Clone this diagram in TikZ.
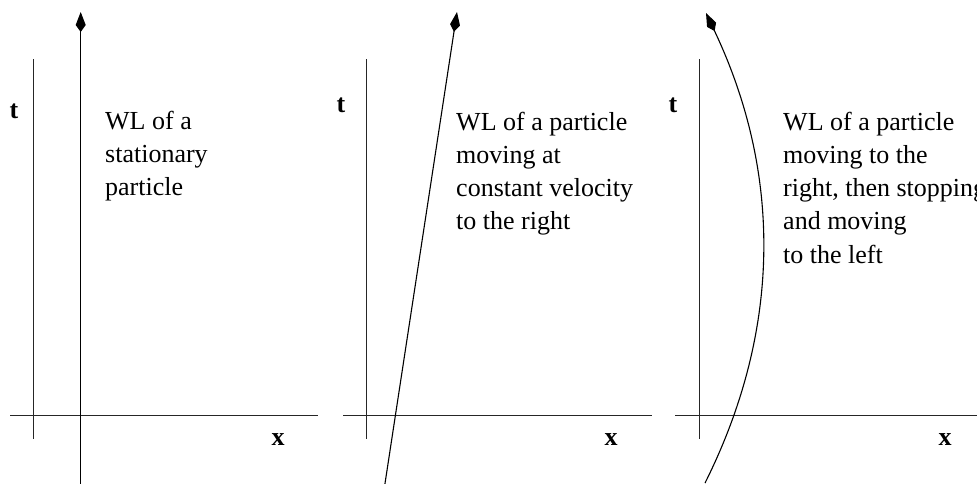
\documentclass[tikz,border=0pt]{standalone}
\usepackage{fontspec}
\setmainfont{Liberation Serif}
\usetikzlibrary{arrows.meta}
\begin{document}
\begin{tikzpicture}[x=1pt,y=-1pt,
  axis/.style={line width=0.9pt, draw=black!85},
  wl/.style={line width=1.1pt, -{Kite[length=20pt,width=10pt,inset=7pt]}},
  lbl/.style={font=\fontsize{26}{31}\selectfont\bfseries, anchor=base, inner sep=0},
  desc/.style={anchor=base west, inner sep=0, font=\fontsize{26}{33.3}\selectfont}]
\clip (0,0) rectangle (977,483);
% panel 1
\coordinate (t1a) at (33,59);  \coordinate (t1b) at (33,439);
\coordinate (x1a) at (10,415); \coordinate (x1b) at (318,415);
\coordinate (w1a) at (80.7,490); \coordinate (w1b) at (80.7,12);
\draw[axis] (t1a) -- (t1b);
\draw[axis] (x1a) -- (x1b);
\draw[wl] (w1a) -- (w1b);
\node[lbl] (t1) at (14,118) {t};
\node[lbl] (x1) at (278,445) {x};
\node[desc] (d1) at (105,129) {\parbox[t]{250pt}{\raggedright WL of a\\stationary\\particle}};
% panel 2
\coordinate (t2a) at (366,59);  \coordinate (t2b) at (366,439);
\coordinate (x2a) at (343,415); \coordinate (x2b) at (652,415);
\coordinate (w2a) at (384,490); \coordinate (w2b) at (457,12);
\draw[axis] (t2a) -- (t2b);
\draw[axis] (x2a) -- (x2b);
\draw[wl] (w2a) -- (w2b);
\node[lbl] (t2) at (341,112) {t};
\node[lbl] (x2) at (611,445) {x};
\node[desc] (d2) at (456,130) {\parbox[t]{250pt}{\raggedright WL of a particle\\moving at\\constant velocity\\to the right}};
% panel 3
\coordinate (t3a) at (699,59);  \coordinate (t3b) at (699,439);
\coordinate (x3a) at (675,415); \coordinate (x3b) at (985,415);
\coordinate (w3a) at (705,483); \coordinate (w3c) at (781.7,329.7);
\coordinate (w3d) at (782,173); \coordinate (w3b) at (706,13);
\draw[axis] (t3a) -- (t3b);
\draw[axis] (x3a) -- (x3b);
\draw[wl] (w3a) .. controls (w3c) and (w3d) .. (w3b);
\node[lbl] (t3) at (673,112) {t};
\node[lbl] (x3) at (945,445) {x};
\node[desc] (d3) at (783,130) {\parbox[t]{250pt}{\raggedright WL of a particle\\moving to the\\right, then stopping\\and moving\\to the left}};
\end{tikzpicture}
\end{document}
